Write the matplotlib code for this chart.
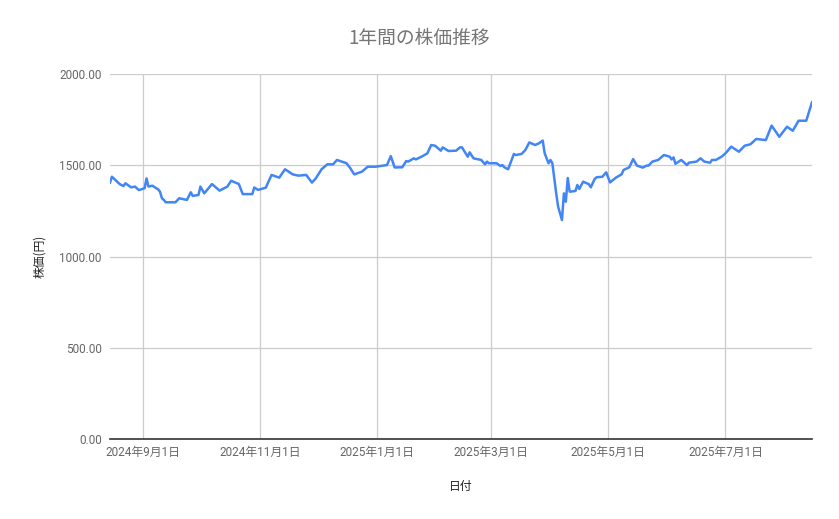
import matplotlib
matplotlib.use("Agg")
import matplotlib.pyplot as plt
import matplotlib.dates as mdates
import pandas as pd

plt.rcParams['font.family'] = ['Roboto', 'Noto Sans CJK JP', 'DejaVu Sans']

title = "1年間の株価推移"
x_label = "日付"
y_label = "株価(円)"

dates = [
    "2024-08-15", "2024-08-16", "2024-08-20", "2024-08-22", "2024-08-23", "2024-08-26",
    "2024-08-28", "2024-08-30", "2024-09-02", "2024-09-03", "2024-09-04", "2024-09-06",
    "2024-09-09", "2024-09-10", "2024-09-11", "2024-09-12", "2024-09-13", "2024-09-18",
    "2024-09-20", "2024-09-24", "2024-09-26", "2024-09-27", "2024-09-30", "2024-10-01",
    "2024-10-03", "2024-10-07", "2024-10-11", "2024-10-15", "2024-10-17", "2024-10-21",
    "2024-10-23", "2024-10-28", "2024-10-29", "2024-10-31", "2024-11-04", "2024-11-07",
    "2024-11-11", "2024-11-12", "2024-11-14", "2024-11-18", "2024-11-21", "2024-11-25",
    "2024-11-28", "2024-11-30", "2024-12-03", "2024-12-06", "2024-12-09", "2024-12-11",
    "2024-12-16", "2024-12-18", "2024-12-20", "2024-12-24", "2024-12-26", "2024-12-27",
    "2024-12-31", "2025-01-06", "2025-01-08", "2025-01-10", "2025-01-14", "2025-01-16",
    "2025-01-17", "2025-01-20", "2025-01-21", "2025-01-24", "2025-01-27", "2025-01-29",
    "2025-01-31", "2025-02-03", "2025-02-04", "2025-02-07", "2025-02-11", "2025-02-13",
    "2025-02-14", "2025-02-17", "2025-02-18", "2025-02-20", "2025-02-24", "2025-02-26",
    "2025-02-27", "2025-02-28", "2025-03-04", "2025-03-06", "2025-03-07", "2025-03-08",
    "2025-03-10", "2025-03-13", "2025-03-14", "2025-03-17", "2025-03-19", "2025-03-21",
    "2025-03-24", "2025-03-26", "2025-03-28", "2025-03-29", "2025-03-30", "2025-03-31",
    "2025-04-01", "2025-04-02", "2025-04-04", "2025-04-05", "2025-04-07", "2025-04-08",
    "2025-04-09", "2025-04-10", "2025-04-11", "2025-04-14", "2025-04-15", "2025-04-16",
    "2025-04-18", "2025-04-21", "2025-04-22", "2025-04-24", "2025-04-25", "2025-04-28",
    "2025-04-30", "2025-05-02", "2025-05-05", "2025-05-08", "2025-05-09", "2025-05-12",
    "2025-05-14", "2025-05-16", "2025-05-19", "2025-05-21", "2025-05-22", "2025-05-24",
    "2025-05-27", "2025-05-30", "2025-06-02", "2025-06-03", "2025-06-04", "2025-06-05",
    "2025-06-08", "2025-06-11", "2025-06-12", "2025-06-16", "2025-06-18", "2025-06-20",
    "2025-06-23", "2025-06-24", "2025-06-26", "2025-06-29", "2025-07-01", "2025-07-04",
    "2025-07-08", "2025-07-11", "2025-07-14", "2025-07-17", "2025-07-22", "2025-07-25",
    "2025-07-29", "2025-08-02", "2025-08-05", "2025-08-08", "2025-08-12", "2025-08-15",
]
prices = [
    1405, 1437, 1397, 1386, 1401, 1379,
    1383, 1364, 1374, 1428, 1383, 1388,
    1368, 1355, 1319, 1310, 1297, 1297,
    1319, 1310, 1352, 1332, 1337, 1383,
    1346, 1397, 1361, 1383, 1415, 1397,
    1342, 1342, 1378, 1365, 1377, 1447,
    1432, 1447, 1478, 1450, 1443, 1447,
    1405, 1428, 1478, 1505, 1505, 1529,
    1511, 1483, 1450, 1465, 1483, 1492,
    1492, 1501, 1550, 1488, 1489, 1523,
    1520, 1538, 1532, 1547, 1565, 1611,
    1607, 1580, 1598, 1578, 1580, 1598,
    1598, 1547, 1571, 1538, 1529, 1505,
    1520, 1511, 1511, 1496, 1501, 1489,
    1478, 1562, 1556, 1562, 1584, 1625,
    1611, 1620, 1635, 1566, 1538, 1511,
    1529, 1511, 1346, 1273, 1200, 1346,
    1300, 1430, 1355, 1359, 1392, 1370,
    1410, 1396, 1379, 1425, 1434, 1437,
    1461, 1406, 1432, 1450, 1474, 1489,
    1534, 1498, 1487, 1498, 1498, 1520,
    1529, 1556, 1547, 1532, 1543, 1508,
    1529, 1501, 1514, 1520, 1538, 1520,
    1514, 1529, 1529, 1547, 1565, 1602,
    1574, 1607, 1615, 1644, 1638, 1717,
    1656, 1711, 1689, 1744, 1744, 1845,
]
x_ticks = ["2024-09-01", "2024-11-01", "2025-01-01", "2025-03-01", "2025-05-01", "2025-07-01"]
x_tick_labels = ["2024年9月1日", "2024年11月1日", "2025年1月1日", "2025年3月1日", "2025年5月1日", "2025年7月1日"]
y_ticks = [0, 500, 1000, 1500, 2000]

d = pd.to_datetime(dates)

fig = plt.figure(figsize=(8.39, 5.19), dpi=100)
ax = fig.add_axes([110 / 839, 80 / 519, 702 / 839, 365 / 519])

ax.plot(d, prices, color="#4285F4", linewidth=1.8, solid_joinstyle="round")

ax.set_xlim(d[0], d[-1])
ax.set_ylim(0, 2000)
ax.set_yticks(y_ticks)
ax.set_yticklabels([f"{v:.2f}" for v in y_ticks])
ax.set_xticks(pd.to_datetime(x_ticks))
ax.set_xticklabels(x_tick_labels)

ax.grid(True, color="#cccccc", linewidth=0.9)
ax.set_axisbelow(True)
for s in ["top", "right", "left"]:
    ax.spines[s].set_visible(False)
ax.spines["bottom"].set_color("#333333")
ax.spines["bottom"].set_linewidth(1.2)
ax.spines["bottom"].set_zorder(5)

ax.tick_params(axis="both", length=0, colors="#444444", labelsize=8.5)
ax.tick_params(axis="y", pad=6, labelcolor="#666666")
ax.tick_params(axis="x", pad=5, labelcolor="#666666")

fig.text(419.5 / 839, 1 - 38 / 519, title, ha="center", va="center",
         fontsize=13.5, color="#757575", family=["Noto Sans CJK JP"])
ax.set_xlabel(x_label, fontsize=8.5, color="#222222", labelpad=15,
              family=["Noto Sans CJK JP"])
ax.set_ylabel(y_label, fontsize=8.5, color="#222222", labelpad=9,
              family=["Noto Sans CJK JP"])

fig.savefig("out.png", dpi=100, facecolor="white")
